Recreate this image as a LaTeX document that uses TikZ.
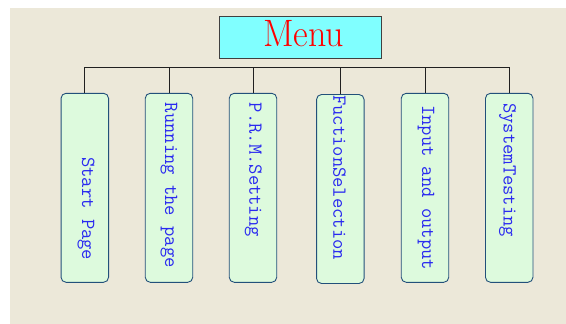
\documentclass[tikz,border=0pt]{standalone}
\usepackage{fontspec}
\definecolor{paper}{HTML}{ECE8D9}
\definecolor{menufill}{HTML}{80FFFF}
\definecolor{boxfill}{HTML}{DDFADD}
\definecolor{boxedge}{HTML}{22507A}
\definecolor{boxink}{HTML}{2A2AF0}
\definecolor{wire}{HTML}{202020}
\tikzset{
  menubox/.style={draw=black!75, line width=1.3pt, fill=menufill, minimum width=162.5pt, minimum height=42pt, inner sep=0pt},
  menutext/.style={text=red, font=\fontsize{36}{36}\selectfont, inner sep=0pt, yscale=1.06},
  itembox/.style={draw=boxedge, line width=0.9pt, fill=boxfill, rounded corners=5pt, minimum width=47.5pt, minimum height=189pt, inner sep=0pt},
  itemtext/.style={text=boxink, rotate=-90, anchor=base west, inner sep=0pt,
    font=\ttfamily\fontsize{20}{20}\selectfont},
  wireline/.style={draw=wire, line width=0.9pt}
}
\begin{document}
\begin{tikzpicture}[x=1pt, y=-1pt]
\useasboundingbox (0,0) rectangle (566,324);
\fill[paper] (10,8) rectangle (566,324);

% top-level menu
\node[menubox] (menu) at (300.5,37.2) {};
\node[menutext, anchor=base] (menulabel) at (303.7,46.7) {Menu};

% menu items
\node[itembox] (b1) at (84.8,187.8) {};
\node[itembox] (b2) at (169.0,187.8) {};
\node[itembox] (b3) at (253.0,187.8) {};
\node[itembox] (b4) at (340.3,189.0) {};
\node[itembox] (b5) at (425.0,187.8) {};
\node[itembox] (b6) at (509.2,187.8) {};

% bus connecting the items
\coordinate (bus) at (0,67.7);
\draw[wireline] (b1.north) -- (b1.north |- bus) -- (b6.north |- bus) -- (b6.north);
\foreach \b in {b2,b3,b4,b5} \draw[wireline] (\b.north |- bus) -- (\b.north);

% item labels, read top to bottom
\node[itemtext] (t1) at (82.0,157.0) {Start Page};
\node[itemtext] (t2) at (165.0,102.7) {Running the page};
\node[itemtext] (t3) at (249.3,102.7) {P.R.M.Setting};
\node[itemtext] (t4) at (333.3,95.0) {FuctionSelection};
\node[itemtext] (t5) at (422.0,105.0) {Input and output};
\node[itemtext] (t6) at (503.5,103.0) {SystemTesting};
\end{tikzpicture}
\end{document}
